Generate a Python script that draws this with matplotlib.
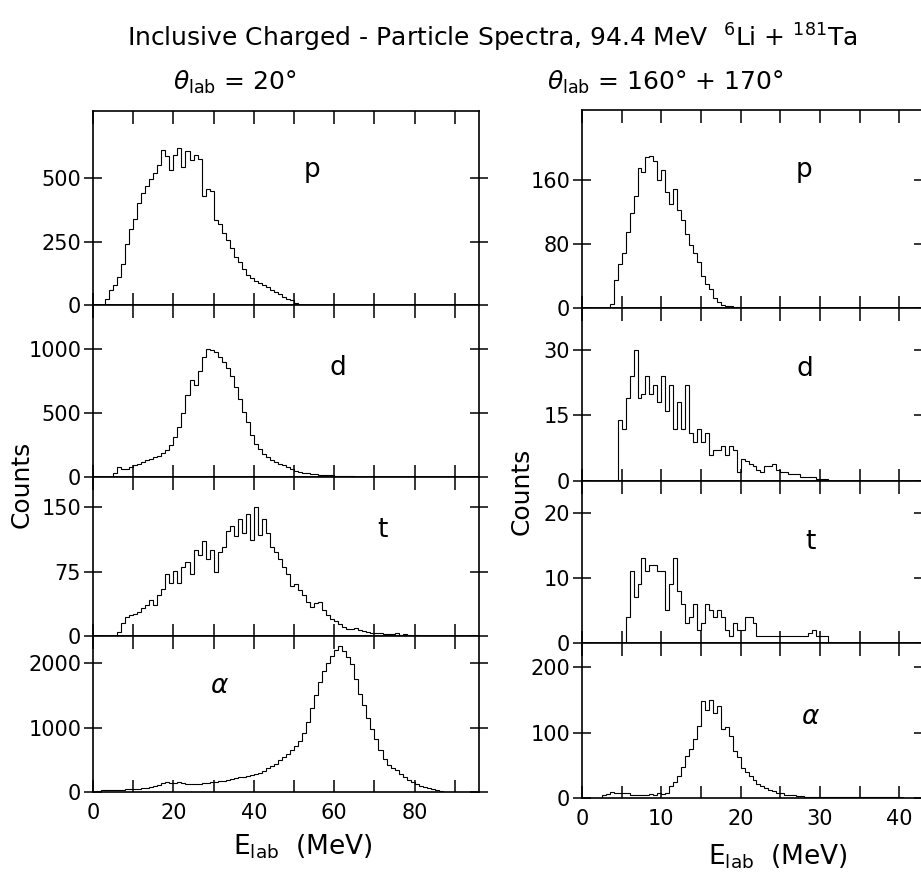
import numpy as np
import matplotlib
matplotlib.use("Agg")
import matplotlib.pyplot as plt

plt.rcParams["font.family"] = "DejaVu Sans"
plt.rcParams["mathtext.fontset"] = "dejavusans"

# spectra at theta_lab = 20 deg, 1 MeV bins, first bin edge given
p20_e0 = 3
p20 = [25, 60, 80, 110, 160, 240, 300, 340, 400, 440, 470, 495, 520, 550, 610,
       585, 530, 590, 620, 545, 605, 570, 590, 575, 430, 455, 450, 335, 320, 285,
       255, 225, 190, 170, 140, 118, 105, 95, 85, 78, 70, 60, 52, 42, 32, 25, 18, 8]
d20_e0 = 5
d20 = [30, 80, 65, 60, 75, 95, 105, 115, 130, 140, 155, 165, 190, 210, 250,
       310, 390, 500, 640, 760, 720, 830, 940, 1000, 990, 975, 940, 895, 850, 790,
       700, 610, 510, 430, 330, 255, 215, 180, 155, 135, 120, 100, 90, 75, 60,
       50, 40, 32, 28, 24, 20, 18, 16, 14, 12, 10, 10, 8, 6, 5, 3]
t20_e0 = 6
t20 = [5, 15, 22, 24, 26, 28, 32, 36, 42, 36, 48, 55, 72, 62, 76, 62, 80, 86, 72, 100,
       94, 110, 90, 100, 74, 98, 104, 122, 128, 116, 136, 120, 142, 112, 150, 118, 136,
       120, 104, 98, 90, 80, 72, 58, 60, 54, 48, 40, 34, 38, 40, 30, 24, 20, 18, 14, 10,
       8, 8, 9, 7, 6, 5, 4, 3, 4, 2, 2, 2, 3, 1, 2, 1, 0, 1]
a20_e0 = 1
a20 = [20, 25, 25, 30, 30, 35, 35, 40, 45, 45, 50, 55, 60, 75, 95, 115, 135, 150, 145,
       140, 150, 140, 130, 125, 120, 130, 140, 145, 150, 155, 165, 175, 185, 195, 210,
       225, 240, 250, 265, 280, 300, 330, 365, 400, 440, 490, 540, 590, 650, 720, 790,
       920, 1080, 1300, 1500, 1700, 1880, 2000, 2110, 2200, 2270, 2180, 2100, 1980,
       1750, 1520, 1350, 1150, 970, 820, 650, 510, 420, 380, 340, 280, 230, 190, 150,
       120, 100, 80, 60, 40, 25, 12, 5]

# spectra at theta_lab = 160 + 170 deg, 0.5 MeV bins
p160_e0 = 3.5
p160 = [5, 35, 55, 68, 95, 118, 140, 175, 170, 188, 190, 184, 160, 172, 145, 130, 148,
        122, 110, 92, 78, 68, 58, 40, 30, 24, 12, 8, 4, 3, 2, 1, 1]
d160_e0 = 4.5
d160 = [14, 12, 19, 24, 30, 19, 20, 24, 20, 22, 18, 24, 16, 22, 12, 18, 12, 22, 11, 9,
        12, 9, 11, 6, 7, 7, 8, 6, 8, 7, 2, 5, 4.5, 4, 3.5, 2.5, 2, 3.5, 3.5, 4, 2.5, 2,
        2, 1.5, 1.5, 1.5, 1, 1, 1, 1, 0.5, 0.5, 0.5]
t160_e0 = 5.5
t160 = [4, 11, 7, 9, 13, 11, 12, 12, 11, 11, 5, 9, 13, 8, 6, 3, 4, 6, 2, 3, 6, 5, 4, 5,
        4, 2, 1, 3, 2, 2, 4, 4, 3, 1, 1, 1, 1, 1, 1, 1, 1, 1, 1, 1, 1, 1, 1.5, 2, 1, 1, 1]
a160_e0 = 2.5
a160 = [4, 6, 9, 8, 7, 7, 8, 5, 5, 4, 5, 4, 6, 5, 7, 6, 8, 18, 24, 33, 48, 64, 75, 90,
        110, 148, 135, 150, 130, 140, 105, 108, 95, 72, 62, 46, 40, 34, 28, 22, 18, 15,
        12, 10, 8, 7, 5, 4, 4, 3, 3, 2, 2, 2, 2, 2, 1, 1, 2, 1, 1, 1, 1, 1, 1, 1, 1, 1,
        1, 1, 1, 1, 1, 1, 1, 1]

particles = ["p", "d", "t", r"$\alpha$"]
yticks20 = [[0, 250, 500], [0, 500, 1000], [0, 75, 150], [0, 1000, 2000]]
ylims20 = [764, 1344, 185, 2420]
yticks160 = [[0, 80, 160], [0, 15, 30], [0, 10, 20], [0, 100, 200]]
ylims160 = [247, 39.6, 24.9, 237]

W, H = 921, 873


def box(l, r, t, b):
    return [l / W, 1 - b / H, (r - l) / W, (b - t) / H]


def panel(fig, pos, e0, width, counts, xmax, xticks, xlabels, yt, ymax,
          name, name_xy, bottom):
    ax = fig.add_axes(pos)
    edges = e0 + width * np.arange(len(counts) + 1)
    ax.stairs(counts, edges, color="black", lw=0.8)
    ax.set_xlim(0, xmax)
    ax.set_ylim(0, ymax)
    ax.set_xticks(xticks)
    ax.set_xticklabels(xlabels if bottom else [])
    ax.set_yticks(yt)
    ax.set_yticklabels([str(v) for v in yt])
    ax.tick_params(axis="x", direction="in", top=True, bottom=True, length=9,
                   width=1.1, labelsize=15, pad=8, labelbottom=bottom)
    ax.tick_params(axis="y", direction="inout", left=True, right=True, length=13,
                   width=1.1, labelsize=15, pad=2)
    for s in ax.spines.values():
        s.set_linewidth(1.2)
    ax.text(name_xy[0], name_xy[1], name, transform=ax.transAxes, fontsize=19,
            ha="center", va="center")
    return ax


fig = plt.figure(figsize=(W / 100, H / 100), dpi=100)

rows20 = [(111, 305), (305, 477), (477, 636), (636, 792)]
rows160 = [(110, 308), (308, 481), (481, 643), (643, 798)]
names20_xy = [(0.567, 0.696), (0.635, 0.634), (0.749, 0.667), (0.329, 0.679)]
names160_xy = [(0.651, 0.697), (0.654, 0.647), (0.669, 0.623), (0.669, 0.523)]

x20 = list(range(0, 100, 10))
x20_lab = [str(v) if v % 20 == 0 and v <= 80 else "" for v in x20]
x160 = list(range(0, 45, 5))
x160_lab = [str(v) if v % 10 == 0 else "" for v in x160]

data20 = [(p20_e0, p20), (d20_e0, d20), (t20_e0, t20), (a20_e0, a20)]
data160 = [(p160_e0, p160), (d160_e0, d160), (t160_e0, t160), (a160_e0, a160)]

for i in range(4):
    bottom = i == 3
    ax = panel(fig, box(93, 479, *rows20[i]), data20[i][0], 1, data20[i][1], 96,
               x20, x20_lab, yticks20[i], ylims20[i], particles[i], names20_xy[i], bottom)
    if bottom:
        ax.set_xlabel(r"E$_{\rm lab}$  (MeV)", fontsize=19)
        ax.xaxis.set_label_coords(0.544, -0.26)
        ax.xaxis.label.set_va("top")
    ax = panel(fig, box(582, 923, *rows160[i]), data160[i][0], 0.5, data160[i][1], 43,
               x160, x160_lab, yticks160[i], ylims160[i], particles[i], names160_xy[i], bottom)
    if bottom:
        ax.set_xlabel(r"E$_{\rm lab}$  (MeV)", fontsize=19)
        ax.xaxis.set_label_coords(0.575, -0.29)
        ax.xaxis.label.set_va("top")

fig.text(492 / W, 1 - 38 / H,
         r"Inclusive Charged - Particle Spectra, 94.4 MeV  $^{6}$Li + $^{181}$Ta",
         fontsize=18, ha="center", va="center")
fig.text(235 / W, 1 - 82 / H, r"$\theta_{\rm lab}$ = 20°", fontsize=18,
         ha="center", va="center")
fig.text(665 / W, 1 - 82 / H, r"$\theta_{\rm lab}$ = 160° + 170°", fontsize=18,
         ha="center", va="center")
fig.text(22 / W, 1 - 484 / H, "Counts", rotation=90, fontsize=18,
         ha="center", va="center")
fig.text(522 / W, 1 - 491 / H, "Counts", rotation=90, fontsize=18,
         ha="center", va="center")

fig.savefig("out.png", dpi=100)
